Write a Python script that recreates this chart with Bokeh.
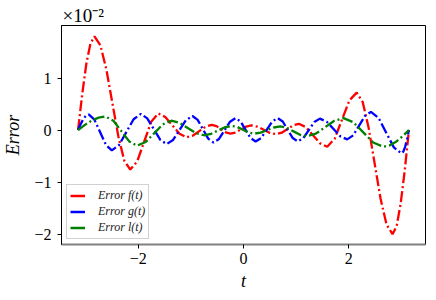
from bokeh.plotting import figure
from bokeh.models import Range1d, FixedTicker, Legend, LegendItem
from bokeh.embed import file_html
from bokeh.resources import INLINE

# values in units of 1e-2
t_f = [-3.1416, -3.0625, -2.985, -2.9075, -2.83, -2.717, -2.603, -2.49, -2.377, -2.263,
       -2.15, -2.0175, -1.885, -1.7525, -1.62, -1.485, -1.35, -1.215, -1.08, -0.96,
       -0.84, -0.72, -0.60, -0.5125, -0.425, -0.3375, -0.25, -0.15, -0.05, 0.05,
       0.15, 0.2675, 0.385, 0.5025, 0.62, 0.7275, 0.835, 0.9425, 1.05, 1.185,
       1.32, 1.455, 1.59, 1.73, 1.87, 2.01, 2.15, 2.263, 2.377, 2.49,
       2.603, 2.717, 2.83, 2.9075, 2.985, 3.0625, 3.1416]
err_f = [0, 0.69, 1.27, 1.66, 1.80, 1.63, 1.16, 0.52, -0.12, -0.59,
         -0.76, -0.60, -0.22, 0.16, 0.32, 0.25, 0.09, -0.07, -0.14, -0.105,
         -0.02, 0.065, 0.10, 0.075, 0.015, -0.045, -0.07, -0.047, 0.01, 0.067,
         0.09, 0.065, 0.005, -0.055, -0.08, -0.05, 0.02, 0.09, 0.12, 0.056,
         -0.10, -0.256, -0.32, -0.17, 0.20, 0.57, 0.72, 0.54, 0.04, -0.64,
         -1.32, -1.82, -2.00, -1.85, -1.41, -0.77, 0]

t_g = [-3.1416, -3.091, -3.041, -2.99, -2.94, -2.83, -2.72, -2.61, -2.5, -2.3625,
       -2.225, -2.0875, -1.95, -1.8275, -1.705, -1.5825, -1.46, -1.3375, -1.215, -1.0925,
       -0.97, -0.87, -0.77, -0.67, -0.57, -0.465, -0.36, -0.255, -0.15, -0.055,
       0.04, 0.135, 0.23, 0.335, 0.44, 0.545, 0.65, 0.745, 0.84, 0.935,
       1.03, 1.135, 1.24, 1.345, 1.45, 1.58, 1.71, 1.84, 1.97, 2.0825,
       2.195, 2.3075, 2.42, 2.565, 2.71, 2.855, 3.0, 3.035, 3.071, 3.106, 3.1416]
err_g = [0, 0.115, 0.212, 0.277, 0.30, 0.199, -0.045, -0.289, -0.39, -0.287,
         -0.04, 0.207, 0.31, 0.225, 0.02, -0.185, -0.27, -0.191, 0, 0.191,
         0.27, 0.195, 0.015, -0.165, -0.24, -0.171, -0.005, 0.161, 0.23, 0.164,
         0.005, -0.154, -0.22, -0.154, 0.005, 0.164, 0.23, 0.164, 0.005, -0.154,
         -0.22, -0.156, 0, 0.156, 0.22, 0.161, 0.02, -0.121, -0.18, -0.102,
         0.085, 0.272, 0.35, 0.233, -0.05, -0.333, -0.45, -0.416, -0.318, -0.172, 0]

t_l = [-3.1416, -3.011, -2.881, -2.75, -2.62, -2.47, -2.32, -2.17, -2.02, -1.8575,
       -1.695, -1.5325, -1.37, -1.215, -1.06, -0.905, -0.75, -0.6175, -0.485, -0.3525,
       -0.22, -0.115, -0.01, 0.095, 0.2, 0.325, 0.45, 0.575, 0.7, 0.825,
       0.95, 1.075, 1.2, 1.375, 1.55, 1.725, 1.9, 2.0875, 2.275, 2.4625,
       2.65, 2.773, 2.896, 3.019, 3.1416]
err_l = [0, 0.0995, 0.184, 0.24, 0.26, 0.178, -0.02, -0.218, -0.30, -0.23,
         -0.06, 0.11, 0.18, 0.139, 0.04, -0.059, -0.10, -0.074, -0.01, 0.054,
         0.08, 0.058, 0.005, -0.048, -0.07, -0.049, 0, 0.049, 0.07, 0.042,
         -0.025, -0.092, -0.12, -0.069, 0.055, 0.179, 0.23, 0.149, -0.045, -0.239,
         -0.32, -0.296, -0.226, -0.122, 0]

x_ticks = [-2, 0, 2]
x_tick_labels = {-2: "\u22122", 0: "0", 2: "2"}
y_ticks = [-2, -1, 0, 1]
y_tick_labels = {-2: "\u22122", -1: "\u22121", 0: "0", 1: "1"}
legend_labels = ["Error f(t)", "Error g(t)", "Error l(t)"]
colors = ["#ff0000", "#0000ff", "#008000"]
scale_text = "\u00d710\u207b\u00b2"

SERIF = "Liberation Serif"

p = figure(frame_width=364, frame_height=219, output_backend="svg", toolbar_location=None,
           x_range=Range1d(-3.456, 3.456), y_range=Range1d(-2.20, 2.01),
           min_border_left=55, min_border_right=1, min_border_top=25, min_border_bottom=48,
           title=scale_text)
p.title.align = "left"
p.title.offset = 1
p.title.standoff = 0
p.title.text_font = SERIF
p.title.text_font_style = "normal"
p.title.text_font_size = "19px"
p.title.text_color = "black"

p.xgrid.visible = False
p.ygrid.visible = False
p.outline_line_color = "black"
p.outline_line_width = 1
p.background_fill_color = "white"
p.border_fill_color = "white"

p.xaxis.ticker = FixedTicker(ticks=x_ticks, minor_ticks=[])
p.yaxis.ticker = FixedTicker(ticks=y_ticks, minor_ticks=[])
p.xaxis.major_label_overrides = x_tick_labels
p.yaxis.major_label_overrides = y_tick_labels
p.xaxis.axis_label = "t"
p.yaxis.axis_label = "Error"
for ax in (p.xaxis[0], p.yaxis[0]):
    ax.major_tick_out = 4
    ax.major_tick_in = 0
    ax.minor_tick_out = 0
    ax.minor_tick_in = 0
    ax.major_tick_line_color = "black"
    ax.axis_line_color = "black"
    ax.major_label_text_font = SERIF
    ax.major_label_text_font_size = "16px"
    ax.major_label_text_color = "black"
    ax.axis_label_text_font = SERIF
    ax.axis_label_text_font_style = "italic"
    ax.axis_label_text_font_size = "18px"
    ax.axis_label_text_color = "black"
p.xaxis.major_label_standoff = 4
p.yaxis.major_label_standoff = 6
p.xaxis.axis_label_standoff = 4
p.yaxis.axis_label_standoff = 8
p.xaxis.axis_line_color = "#808080"
p.xaxis.axis_line_width = 2

dash = "11 3 2 3"
p.line(t_f, err_f, line_color=colors[0], line_width=2.3, line_dash=dash)
p.line(t_g, err_g, line_color=colors[1], line_width=2.3, line_dash=dash)
p.line(t_l, err_l, line_color=colors[2], line_width=2.3, line_dash=dash)

# legend handles (solid short lines; single point, so nothing drawn in the plot)
handles = [p.line([t_f[0]], [err_f[0]], line_color=c, line_width=2.5) for c in colors]
legend = Legend(items=[LegendItem(label=lab, renderers=[h]) for lab, h in zip(legend_labels, handles)],
                location="bottom_left", margin=5, padding=3, spacing=1,
                glyph_width=15, glyph_height=13, label_height=13, label_standoff=13,
                label_text_font=SERIF, label_text_font_style="italic", label_text_font_size="12px",
                label_text_color="#222222",
                border_line_color="#cccccc", border_line_width=1, border_line_alpha=0.9,
                background_fill_color="white", background_fill_alpha=0.8)
p.add_layout(legend)

open("out.html", "w").write(file_html(p, INLINE))
